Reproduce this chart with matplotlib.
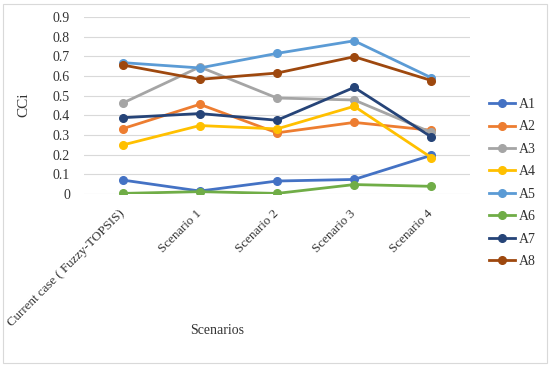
import matplotlib
matplotlib.use("Agg")
import matplotlib.pyplot as plt
from matplotlib.patches import Rectangle

categories = ["Current case ( Fuzzy-TOPSIS)", "Scenario 1", "Scenario 2", "Scenario 3", "Scenario 4"]
series_names = ["A1", "A2", "A3", "A4", "A5", "A6", "A7", "A8"]
A1 = [0.071, 0.015, 0.066, 0.074, 0.197]
A2 = [0.332, 0.456, 0.311, 0.364, 0.324]
A3 = [0.462, 0.646, 0.488, 0.478, 0.313]
A4 = [0.249, 0.348, 0.331, 0.446, 0.185]
A5 = [0.668, 0.641, 0.715, 0.779, 0.591]
A6 = [0.003, 0.012, 0.003, 0.048, 0.039]
A7 = [0.388, 0.409, 0.375, 0.542, 0.290]
A8 = [0.656, 0.583, 0.615, 0.698, 0.577]
values = [A1, A2, A3, A4, A5, A6, A7, A8]
colors = ["#4472C4", "#ED7D31", "#A5A5A5", "#FFC000", "#5B9BD5", "#70AD47", "#264478", "#9E480E"]

plt.rcParams['font.family'] = ['Liberation Serif', 'DejaVu Serif']

fig = plt.figure(figsize=(5.5, 3.68), dpi=100)
fig.patches.append(Rectangle((3/550, 5/368), 544/550, 359/368, transform=fig.transFigure,
                             fill=False, edgecolor="#D9D9D9", linewidth=0.8))
ax = fig.add_axes([84/550, 1-194/368, 386/550, 177/368])
x = list(range(len(categories)))
for name, vals, c in zip(series_names, values, colors):
    ax.plot(x, vals, color=c, linewidth=2.0, marker="o", markersize=5.5, label=name)

ax.set_xlim(-0.5, len(categories) - 0.5)
ax.set_ylim(0, 0.9)
ax.set_yticks([i / 10 for i in range(10)])
ax.set_yticklabels(["0"] + [f"{i/10:.1f}" for i in range(1, 10)])
ax.yaxis.grid(True, color="#D9D9D9", linewidth=0.8)
ax.set_axisbelow(True)
for s in ax.spines.values():
    s.set_visible(False)
ax.tick_params(axis="both", length=0, labelsize=10, colors="#333333")
ax.tick_params(axis="y", pad=10)
ax.set_xticks(x)
ax.set_xticklabels(categories, rotation=45, ha="right", va="center", rotation_mode="anchor")
ax.tick_params(axis="x", pad=13, labelsize=9.4)
ax.set_ylabel("CCi", fontsize=11, color="#333333")
ax.yaxis.set_label_coords((30 - 84) / 386, (194 - 105) / 177)
ax.set_xlabel("Scenarios", fontsize=10, color="#333333")
ax.xaxis.set_label_coords((217 - 84) / 386, (194 - 324) / 177)

leg = ax.legend(loc="upper left", bbox_to_anchor=((489 - 84) / 386, (194 - 98) / 177), frameon=False,
                fontsize=10, handlelength=1.9, labelspacing=0.68, handletextpad=0.25,
                borderaxespad=0, borderpad=0)
for t in leg.get_texts():
    t.set_color("#333333")

fig.savefig("out.png", dpi=100)
